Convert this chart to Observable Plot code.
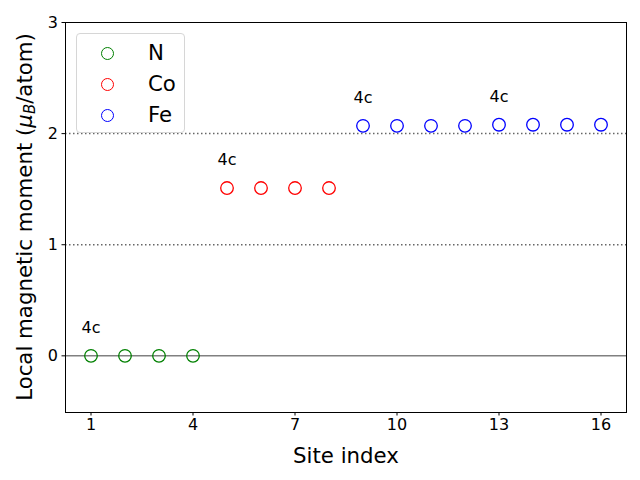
<!DOCTYPE html>
<html>
<head>
<meta charset="utf-8">
<script src="https://cdn.jsdelivr.net/npm/d3@7"></script>
<script src="https://cdn.jsdelivr.net/npm/@observablehq/plot@0.6"></script>
<style>
  html, body { margin: 0; padding: 0; background: #fff; }
  #wrap { position: relative; width: 640px; height: 480px; font-family: "DejaVu Sans", sans-serif; }
  #legend { position: absolute; left: 76px; top: 33px; width: 109px; height: 100px; box-sizing: border-box;
            border: 1px solid #d6d6d6; border-radius: 4px; background: rgba(255,255,255,0.8); }
  .item { position: absolute; left: 0; height: 24px; }
  .item .mk { position: absolute; left: 24px; width: 13px; height: 13px; border-radius: 50%; border: 1.5px solid; box-sizing: border-box; }
  .item .lb { position: absolute; left: 71px; font-size: 21.3px; color: #000; white-space: nowrap; line-height: 24px; top: 0; }
</style>
</head>
<body>
<div id="wrap"></div>
<script>
// ---- data ----
const speciesNames = ["N", "Co", "Fe"];
const speciesColors = ["green", "red", "blue"];
const siteIndex = [1, 2, 3, 4, 5, 6, 7, 8, 9, 10, 11, 12, 13, 14, 15, 16];
const siteSpecies = ["N", "N", "N", "N", "Co", "Co", "Co", "Co", "Fe", "Fe", "Fe", "Fe", "Fe", "Fe", "Fe", "Fe"];
const moments = [0.0, 0.0, 0.0, 0.0, 1.51, 1.51, 1.51, 1.51, 2.07, 2.07, 2.07, 2.07, 2.08, 2.08, 2.08, 2.08];
const wyckoffSites = [1, 5, 9, 13];
const wyckoffLabels = ["4c", "4c", "4c", "4c"];
const xTicks = [1, 4, 7, 10, 13, 16];
const yTicks = [0, 1, 2, 3];
const refLinesDotted = [1, 2];
const refLineSolid = [0];

const points = siteIndex.map((s, i) => ({site: s, species: siteSpecies[i], m: moments[i]}));
const labels = wyckoffSites.map((s, i) => ({site: s, text: wyckoffLabels[i], m: moments[siteIndex.indexOf(s)]}));

const chart = Plot.plot({
  width: 640,
  height: 480,
  marginLeft: 65,
  marginRight: 14,
  marginTop: 22,
  marginBottom: 68,
  style: {fontFamily: "DejaVu Sans, sans-serif", fontSize: "16px", background: "#fff", color: "#000"},
  x: {domain: [0.25, 16.75], ticks: xTicks, tickFormat: "d", tickSize: 3.5, tickPadding: 3, label: "Site index", labelAnchor: "center", labelArrow: "none", labelOffset: 50},
  y: {domain: [-0.51, 3], ticks: yTicks, tickFormat: "d", tickSize: 3.5, tickPadding: 4, label: null},
  color: {domain: speciesNames, range: speciesColors},
  marks: [
    Plot.ruleY(refLinesDotted, {stroke: "#666", strokeWidth: 1.5, strokeDasharray: "1.5,2.5"}),
    Plot.ruleY(refLineSolid, {stroke: "#808080", strokeWidth: 1.5}),
    Plot.dot(points, {x: "site", y: "m", stroke: "species", r: 6.3, strokeWidth: 1.3, fill: "none"}),
    Plot.text(labels, {x: "site", y: "m", text: "text", dy: -28, fontSize: 16, fill: "#000"}),
    Plot.frame({stroke: "#000", strokeWidth: 1})
  ]
});

const wrap = document.getElementById("wrap");
wrap.appendChild(chart);

// style axis labels
const svg = d3.select(chart);
svg.selectAll("[aria-label='x-axis tick label'] text, [aria-label='y-axis tick label'] text")
   .attr("font-size", 16);
svg.selectAll("[aria-label='x-axis label'] text").attr("font-size", 21.3);
svg.selectAll("[aria-label='x-axis tick'] path, [aria-label='y-axis tick'] path").attr("stroke", "#000").attr("stroke-opacity", 1);

// y axis label with italic mu and subscript B
const yl = svg.append("text")
  .attr("transform", "translate(26,217) rotate(-90)")
  .attr("text-anchor", "middle")
  .attr("dominant-baseline", "middle")
  .attr("font-size", 21.3)
  .attr("font-family", "DejaVu Sans, sans-serif")
  .attr("fill", "#000");
yl.append("tspan").text("Local magnetic moment (");
yl.append("tspan").attr("font-style", "italic").text("μ");
yl.append("tspan").attr("font-style", "italic").attr("font-size", 15).attr("dy", 4).text("B");
yl.append("tspan").attr("dy", -4).text("/atom)");

// legend
const leg = document.createElement("div");
leg.id = "legend";
speciesNames.forEach((n, i) => {
  const it = document.createElement("div");
  it.className = "item";
  it.style.top = (7 + i * 31) + "px";
  it.style.width = "100%";
  const mk = document.createElement("div");
  mk.className = "mk";
  mk.style.borderColor = speciesColors[i];
  mk.style.top = "5.5px";
  const lb = document.createElement("div");
  lb.className = "lb";
  lb.textContent = n;
  it.appendChild(mk);
  it.appendChild(lb);
  leg.appendChild(it);
});
wrap.appendChild(leg);
</script>
</body>
</html>
